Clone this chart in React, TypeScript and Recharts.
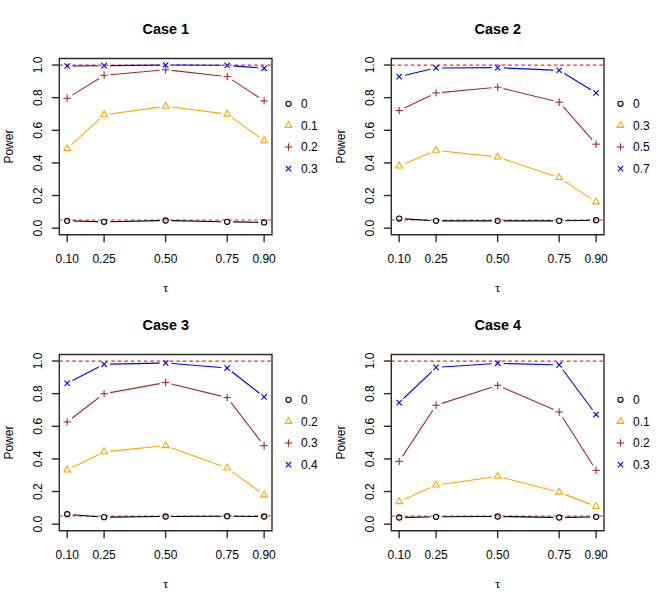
import React from 'react';
import { LineChart, Line, XAxis, YAxis, ReferenceLine, ReferenceArea, Label } from 'recharts';

// ---- data ----
const taus = [0.1, 0.25, 0.5, 0.75, 0.9];
const xTicks = [0.1, 0.25, 0.5, 0.75, 0.9];
const yTicks = [0, 0.2, 0.4, 0.6, 0.8, 1.0];
const refLevels = [0.05, 1.0];
const titles = ['Case 1', 'Case 2', 'Case 3', 'Case 4'];

const case1Labels = ['0', '0.1', '0.2', '0.3'];
const case1S0 = [0.045, 0.039, 0.047, 0.039, 0.035];
const case1S1 = [0.487, 0.695, 0.747, 0.699, 0.536];
const case1S2 = [0.796, 0.937, 0.971, 0.929, 0.78];
const case1S3 = [0.994, 0.996, 1.0, 0.998, 0.98];

const case2Labels = ['0', '0.3', '0.5', '0.7'];
const case2S0 = [0.059, 0.045, 0.045, 0.045, 0.049];
const case2S1 = [0.381, 0.477, 0.436, 0.31, 0.161];
const case2S2 = [0.721, 0.829, 0.864, 0.772, 0.515];
const case2S3 = [0.929, 0.982, 0.984, 0.967, 0.829];

const case3Labels = ['0', '0.2', '0.3', '0.4'];
const case3S0 = [0.061, 0.043, 0.047, 0.049, 0.047];
const case3S1 = [0.332, 0.444, 0.481, 0.344, 0.179];
const case3S2 = [0.627, 0.8, 0.868, 0.776, 0.481];
const case3S3 = [0.864, 0.98, 0.988, 0.957, 0.78];

const case4Labels = ['0', '0.1', '0.2', '0.3'];
const case4S0 = [0.041, 0.045, 0.047, 0.041, 0.045];
const case4S1 = [0.138, 0.24, 0.293, 0.196, 0.108];
const case4S2 = [0.385, 0.729, 0.851, 0.688, 0.33];
const case4S3 = [0.745, 0.961, 0.986, 0.976, 0.672];

// ---- styles ----
const seriesColors = ['#000000', '#FFA500', '#A52A2A', '#0000FF'];
const seriesShapes = ['circle', 'triangle', 'plus', 'cross'];
const FONT = '"Liberation Sans", Arial, Helvetica, sans-serif';
const X_DOMAIN: [number, number] = [0.068, 0.932];
const Y_DOMAIN: [number, number] = [-0.04, 1.04];
const PW = 332;
const PH = 296;
const GAP = 6;
const AXIS_COLOR = '#2a2a2a';

const buildRows = (series: number[][]) =>
  taus.map((t, i) => ({ tau: t, s0: series[0][i], s1: series[1][i], s2: series[2][i], s3: series[3][i] }));

const panels = [
  { title: titles[0], labels: case1Labels, rows: buildRows([case1S0, case1S1, case1S2, case1S3]) },
  { title: titles[1], labels: case2Labels, rows: buildRows([case2S0, case2S1, case2S2, case2S3]) },
  { title: titles[2], labels: case3Labels, rows: buildRows([case3S0, case3S1, case3S2, case3S3]) },
  { title: titles[3], labels: case4Labels, rows: buildRows([case4S0, case4S1, case4S2, case4S3]) },
];

function Marker({ shape, cx, cy, color }: { shape: string; cx: number; cy: number; color: string }) {
  const sw = 1.1;
  if (shape === 'circle') return <circle cx={cx} cy={cy} r={2.6} fill="none" stroke={color} strokeWidth={sw} />;
  if (shape === 'triangle') {
    const pts = `${cx},${cy - 3.9} ${cx + 3.4},${cy + 1.95} ${cx - 3.4},${cy + 1.95}`;
    return <polygon points={pts} fill="none" stroke={color} strokeWidth={sw} />;
  }
  if (shape === 'plus') {
    return (
      <g stroke={color} strokeWidth={sw}>
        <line x1={cx - 3.7} y1={cy} x2={cx + 3.7} y2={cy} />
        <line x1={cx} y1={cy - 3.7} x2={cx} y2={cy + 3.7} />
      </g>
    );
  }
  return (
    <g stroke={color} strokeWidth={sw}>
      <line x1={cx - 2.7} y1={cy - 2.7} x2={cx + 2.7} y2={cy + 2.7} />
      <line x1={cx - 2.7} y1={cy + 2.7} x2={cx + 2.7} y2={cy - 2.7} />
    </g>
  );
}

const makeDot = (color: string, shape: string) => (props: any) => {
  const { cx, cy, index, points } = props;
  if (cx == null || cy == null) return <g key={`d-${index}`} />;
  const next = points && points[index + 1];
  let seg = null;
  if (next && next.x != null && next.y != null) {
    const dx = next.x - cx;
    const dy = next.y - cy;
    const d = Math.hypot(dx, dy);
    if (d > 2 * GAP) {
      seg = (
        <line
          x1={cx + (dx / d) * GAP}
          y1={cy + (dy / d) * GAP}
          x2={next.x - (dx / d) * GAP}
          y2={next.y - (dy / d) * GAP}
          stroke={color}
          strokeWidth={1.1}
        />
      );
    }
  }
  return (
    <g key={`d-${index}`}>
      {seg}
      <Marker shape={shape} cx={cx} cy={cy} color={color} />
    </g>
  );
};

const YTick = (props: any) => {
  const { x, y, payload } = props;
  return (
    <text
      x={x}
      y={y}
      transform={`rotate(-90 ${x} ${y})`}
      textAnchor="middle"
      fontSize={12}
      fontFamily={FONT}
      fill="#000"
    >
      {Number(payload.value).toFixed(1)}
    </text>
  );
};

const legendY = [103.8, 125.4, 147, 168.6];

function Panel({ panel, left, top }: { panel: any; left: number; top: number }) {
  return (
    <div style={{ position: 'absolute', left, top, width: PW, height: PH }}>
      <LineChart
        width={PW}
        height={PH}
        data={panel.rows}
        margin={{ top: 58.5, right: 60, bottom: 21.3, left: 19.3 }}
      >
        <XAxis
          dataKey="tau"
          type="number"
          domain={X_DOMAIN}
          ticks={xTicks}
          interval={0}
          height={40}
          axisLine={false}
          tickLine={{ stroke: AXIS_COLOR, strokeWidth: 1.4 }}
          tickSize={7.5}
          tickMargin={12.5}
          tick={{ fill: '#000', fontSize: 12, fontFamily: FONT }}
          tickFormatter={(v: number) => v.toFixed(2)}
        >
          <Label
            content={() => (
              <text x={165.7} y={291.5} textAnchor="middle" fontSize={13} fontFamily='"Liberation Serif", serif' fill="#000">
                τ
              </text>
            )}
          />
        </XAxis>
        <YAxis
          type="number"
          domain={Y_DOMAIN}
          ticks={yTicks}
          interval={0}
          width={40}
          axisLine={false}
          tickLine={{ stroke: AXIS_COLOR, strokeWidth: 1.4 }}
          tickSize={7.5}
          tickMargin={9.3}
          tick={<YTick />}
        >
          <Label
            content={() => (
              <text
                x={12.7}
                y={146.6}
                transform="rotate(-90 12.7 146.6)"
                textAnchor="middle"
                fontSize={12}
                fontFamily={FONT}
                fill="#000"
              >
                Power
              </text>
            )}
          />
        </YAxis>
        <ReferenceArea
          x1={X_DOMAIN[0]}
          x2={X_DOMAIN[1]}
          y1={Y_DOMAIN[0]}
          y2={Y_DOMAIN[1]}
          fill="none"
          stroke={AXIS_COLOR}
          strokeWidth={1.4}
          fillOpacity={0}
        />
        {['s0', 's1', 's2', 's3'].map((k, i) => (
          <Line
            key={k}
            dataKey={k}
            type="linear"
            stroke="none"
            isAnimationActive={false}
            activeDot={false}
            dot={makeDot(seriesColors[i], seriesShapes[i])}
          />
        ))}
        {refLevels.map((v) => (
          <ReferenceLine key={v} y={v} stroke="#FF2020" strokeWidth={1.2} strokeDasharray="3.5 3" />
        ))}
      </LineChart>
      <svg
        width={PW}
        height={PH}
        style={{ position: 'absolute', left: 0, top: 0, pointerEvents: 'none' }}
      >
        <text x={165.7} y={34} textAnchor="middle" fontSize={14.4} fontWeight="bold" fontFamily={FONT} fill="#000">
          {panel.title}
        </text>
        {panel.labels.map((lab: string, i: number) => (
          <g key={lab + i}>
            <Marker shape={seriesShapes[i]} cx={288.5} cy={legendY[i]} color={seriesColors[i]} />
            <text x={301} y={legendY[i] + 4.3} fontSize={12} fontFamily={FONT} fill="#000">
              {lab}
            </text>
          </g>
        ))}
      </svg>
    </div>
  );
}

export default function App() {
  return (
    <div style={{ position: 'absolute', left: 0, top: 0, width: 664, height: 592, background: '#fff' }}>
      {panels.map((p, i) => (
        <Panel key={p.title} panel={p} left={(i % 2) * PW} top={Math.floor(i / 2) * PH} />
      ))}
    </div>
  );
}
